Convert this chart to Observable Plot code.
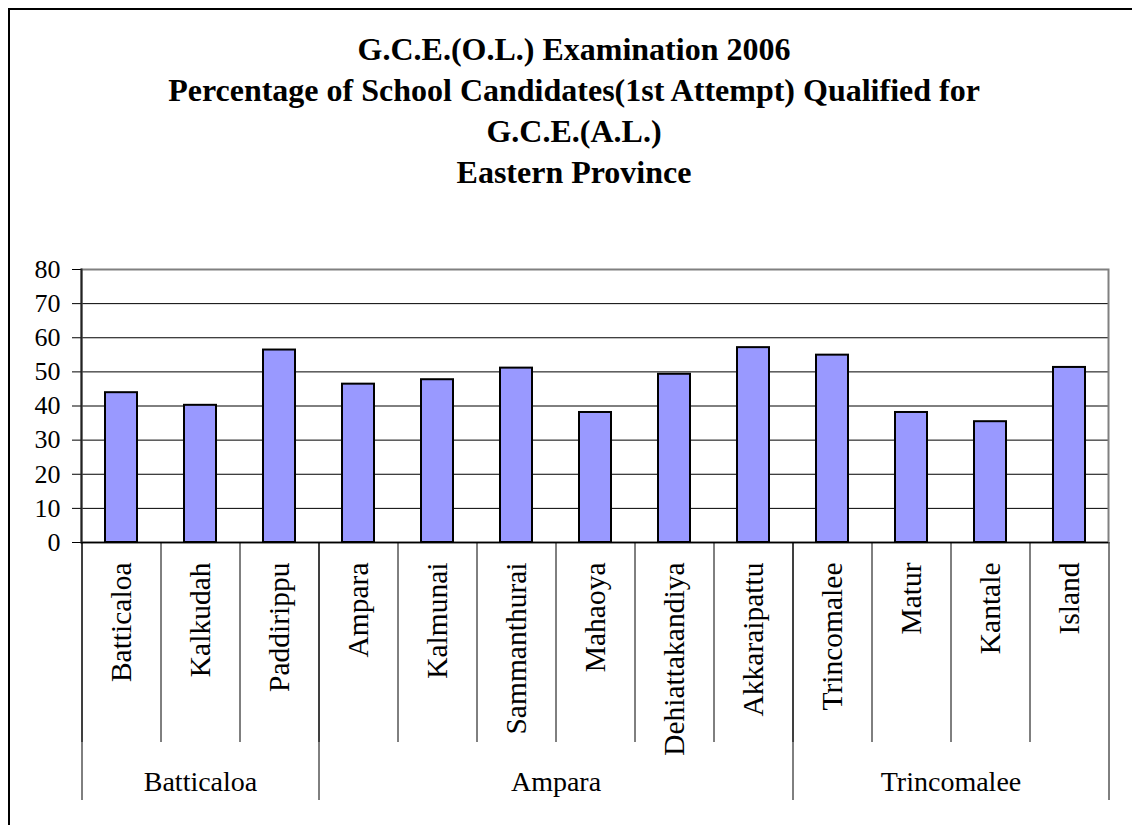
<!DOCTYPE html>
<html>
<head>
<meta charset="utf-8">
<script src="https://cdn.jsdelivr.net/npm/d3@7"></script>
<script src="https://cdn.jsdelivr.net/npm/@observablehq/plot@0.6"></script>
<style>
  html, body { margin: 0; padding: 0; background: #fff; width: 1132px; height: 825px; overflow: hidden; }
  #border { position: absolute; left: 8px; top: 8px; width: 2000px; height: 2000px;
            border-left: 2px solid #000; border-top: 2px solid #000; box-sizing: border-box; }
  #title { position: absolute; left: 16px; top: 29px; width: 1116px; text-align: center;
           font-family: "Liberation Serif", "Times New Roman", serif; font-weight: bold;
           font-size: 32px; line-height: 41px; color: #000; }
  #chart { position: absolute; left: 0; top: 200px; }
  #chart svg text { font-family: "Liberation Serif", "Times New Roman", serif; font-variant: normal; }
</style>
</head>
<body>
<div id="border"></div>
<div id="title">G.C.E.(O.L.) Examination 2006<br>Percentage of School Candidates(1st Attempt) Qualified for<br>G.C.E.(A.L.)<br>Eastern Province</div>
<div id="chart"></div>
<script>
const categories = ["Batticaloa", "Kalkudah", "Paddirippu", "Ampara", "Kalmunai", "Sammanthurai",
  "Mahaoya", "Dehiattakandiya", "Akkaraipattu", "Trincomalee", "Matur", "Kantale", "Island"];
const values = [43.9, 40.2, 56.4, 46.4, 47.7, 51.1, 38.1, 49.3, 57.1, 54.9, 38.1, 35.4, 51.3];
const groups = ["Batticaloa", "Ampara", "Trincomalee"];
const groupSizes = [3, 6, 4];
const yTicks = [0, 10, 20, 30, 40, 50, 60, 70, 80];

const data = categories.map((c, i) => ({category: c, value: values[i]}));

const W = 1132, H = 625, mL = 81, mR = 24, mT = 69, mB = 283;
const step = (W - mL - mR) / categories.length;

// group geometry in units of category steps
let start = 0;
const groupInfo = groups.map((g, k) => {
  const n = groupSizes[k];
  const center = start + n / 2;
  const idx = Math.min(categories.length - 1, Math.floor(center));
  const info = {name: g, first: categories[start], centerCat: categories[idx], dx: (center - (idx + 0.5)) * step};
  start += n;
  return info;
});

const font = "'Liberation Serif', 'Times New Roman', serif";

const plot = Plot.plot({
  width: W, height: H,
  marginTop: mT, marginBottom: mB, marginLeft: mL, marginRight: mR,
  style: {fontFamily: font, fontSize: "26px", color: "#000", background: "transparent", overflow: "visible"},
  x: {domain: categories, paddingInner: 0.6, paddingOuter: 0.3, align: 0.5, label: null, axis: null},
  y: {domain: [0, 80], label: null, axis: null},
  marks: [
    Plot.gridY(yTicks.slice(1, -1), {stroke: "#000", strokeOpacity: 1, strokeWidth: 1}),
    Plot.frame({stroke: "#808080", strokeWidth: 2}),
    Plot.axisY(yTicks, {anchor: "left", tickSize: 9, tickPadding: 12, fontSize: 26, fontFamily: font,
      fontVariant: "normal", label: null, stroke: "#000"}),
    Plot.barY(data, {x: "category", y: "value", fill: "#9999ff", stroke: "#000", strokeWidth: 2}),
    Plot.ruleY([0], {stroke: "#000", strokeWidth: 1.5}),
    Plot.frame({anchor: "left", stroke: "#222", strokeWidth: 2}),
    // category separators
    Plot.axisX(categories, {anchor: "bottom", tickSize: 200, dx: -step / 2, tickFormat: () => "", label: null, stroke: "#000"}),
    // group separators
    Plot.axisX(groupInfo.map(d => d.first), {anchor: "bottom", tickSize: 258, dx: -step / 2, tickFormat: () => "", label: null, stroke: "#000"}),
    Plot.axisX([categories[categories.length - 1]], {anchor: "bottom", tickSize: 258, dx: step / 2, tickFormat: () => "", label: null, stroke: "#000"}),
    // category labels
    Plot.text(data, {x: "category", text: "category", frameAnchor: "bottom", rotate: -90,
      textAnchor: "end", lineAnchor: "middle", dy: 20, fontSize: 29.5, fill: "#000"}),
    // group labels
    ...groupInfo.map(g => Plot.text([g], {x: d => d.centerCat, text: d => d.name, frameAnchor: "bottom",
      dx: g.dx, dy: 240, lineAnchor: "middle", fontSize: 28, fill: "#000"}))
  ]
});
document.getElementById("chart").appendChild(plot);
</script>
</body>
</html>
